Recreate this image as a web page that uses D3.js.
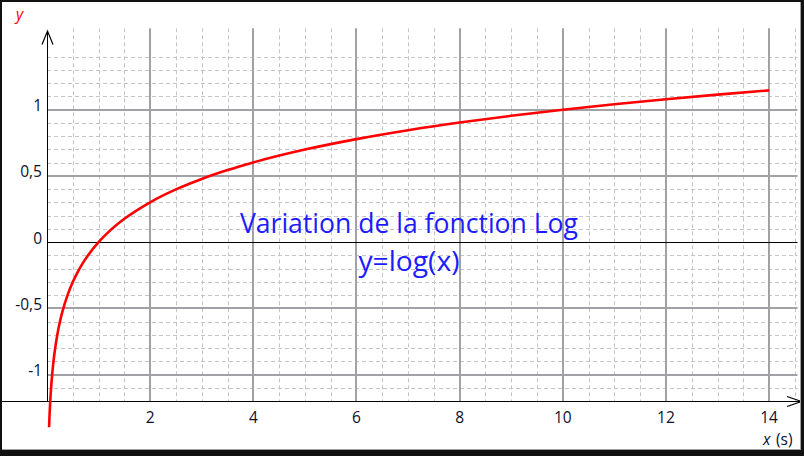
<!DOCTYPE html>
<html><head><meta charset="utf-8">
<script src="https://cdn.jsdelivr.net/npm/d3@7"></script>
<style>html,body{margin:0;padding:0;background:#fff}svg{display:block}</style>
</head><body>
<script>
// data: y = log(x)
const xs = [0.04,0.05,0.06,0.07,0.08,0.1,0.12,0.15,0.2,0.25,0.3,0.4,0.5,0.6,0.7,0.8,1,1.2,1.5,2,2.5,3,3.5,4,5,6,7,8,9,10,11,12,13,14];
const ys = [-1.398,-1.301,-1.222,-1.155,-1.097,-1,-0.921,-0.824,-0.699,-0.602,-0.523,-0.398,-0.301,-0.222,-0.155,-0.097,0,0.079,0.176,0.301,0.398,0.477,0.544,0.602,0.699,0.778,0.845,0.903,0.954,1,1.041,1.079,1.114,1.146];
const xTicks = [2,4,6,8,10,12,14];
const yTicks = [-1,-0.5,0,0.5,1];
const yTickLabels = ["-1","-0,5","0","0,5","1"];
const xMinor = [0.5,1,1.5,2.5,3,3.5,4.5,5,5.5,6.5,7,7.5,8.5,9,9.5,10.5,11,11.5,12.5,13,13.5,14.5];
const yMinor = [-1.1,-0.9,-0.8,-0.7,-0.6,-0.4,-0.3,-0.2,-0.1,0.1,0.2,0.3,0.4,0.6,0.7,0.8,0.9,1.1,1.2,1.3,1.4];
const title1 = "Variation de la fonction Log";
const title2 = "y=log(x)";

const W = 804, H = 456;
const svg = d3.select("body").append("svg").attr("width", W).attr("height", H);
svg.append("rect").attr("width", W).attr("height", H).attr("fill", "#fff");

const x = d3.scaleLinear().domain([0, 14.55]).range([47, 797.5]);
const y = d3.scaleLinear().domain([-1.2, 1.615]).range([401, 28.3]);

const font = "'Open Sans', 'Noto Sans', sans-serif";
const g = svg.append("g");

// minor grid
g.selectAll(".vmin").data(xMinor).join("line")
  .attr("x1", d => Math.round(x(d)) + 0.5).attr("x2", d => Math.round(x(d)) + 0.5)
  .attr("y1", y.range()[1]).attr("y2", y(-1.2))
  .attr("stroke", "#c4c4c4").attr("stroke-width", 1).attr("stroke-dasharray", "4,3");
g.selectAll(".hmin").data(yMinor).join("line")
  .attr("y1", d => Math.round(y(d)) + 0.5).attr("y2", d => Math.round(y(d)) + 0.5)
  .attr("x1", x(0)).attr("x2", x.range()[1])
  .attr("stroke", "#c4c4c4").attr("stroke-width", 1).attr("stroke-dasharray", "4,3");

// major grid
g.selectAll(".vmaj").data(xTicks).join("line")
  .attr("x1", d => Math.round(x(d))).attr("x2", d => Math.round(x(d)))
  .attr("y1", y.range()[1]).attr("y2", y(-1.2))
  .attr("stroke", "#a2a2a6").attr("stroke-width", 2);
g.selectAll(".hmaj").data(yTicks.filter(d => d !== 0)).join("line")
  .attr("y1", d => Math.round(y(d))).attr("y2", d => Math.round(y(d)))
  .attr("x1", x(0)).attr("x2", x.range()[1])
  .attr("stroke", "#a2a2a6").attr("stroke-width", 2);
// zero line
g.append("line").attr("x1", x(0)).attr("x2", x.range()[1])
  .attr("y1", Math.round(y(0)) + 0.5).attr("y2", Math.round(y(0)) + 0.5)
  .attr("stroke", "#000").attr("stroke-width", 1);

// axes
const ax = Math.round(x(0)) + 0.5, ay = Math.round(y(-1.2)) + 0.5;
g.append("line").attr("x1", 2).attr("x2", 801).attr("y1", ay).attr("y2", ay).attr("stroke", "#000");
g.append("line").attr("x1", ax).attr("x2", ax).attr("y1", ay).attr("y2", 31).attr("stroke", "#000");
// arrows
g.append("path").attr("d", `M${ax-5.5},44.5 L${ax},31 L${ax+5.5},44.5`).attr("fill", "none").attr("stroke", "#000").attr("stroke-width", 1.2);
g.append("path").attr("d", `M787,${ay-5} L801.5,${ay} L787,${ay+5}`).attr("fill", "none").attr("stroke", "#000").attr("stroke-width", 1.2);

// curve
const pts = xs.map((d, i) => [d, ys[i]]);
g.append("path").datum(pts)
  .attr("d", d3.line().x(d => x(d[0])).y(d => y(d[1])).curve(d3.curveMonotoneX))
  .attr("fill", "none").attr("stroke", "#ff0000").attr("stroke-width", 2.6);

// tick labels
const labColor = "#0b1030";
g.selectAll(".yl").data(yTicks).join("text")
  .attr("x", 42).attr("y", d => y(d) + 1.5)
  .attr("text-anchor", "end").attr("font-family", font).attr("font-size", 15.5)
  .attr("fill", labColor).text((d, i) => yTickLabels[i]);
g.selectAll(".xl").data(xTicks).join("text")
  .attr("x", d => x(d)).attr("y", 423)
  .attr("text-anchor", "middle").attr("font-family", font).attr("font-size", 15.5)
  .attr("fill", labColor).text(d => d);

// axis titles
g.append("text").attr("x", 16).attr("y", 20).attr("font-family", font).attr("font-size", 15.5)
  .attr("font-style", "italic").attr("fill", "#ff0000").text("y");
const xt = g.append("text").attr("x", 763).attr("y", 445).attr("font-family", font).attr("font-size", 15.5).attr("fill", labColor);
xt.append("tspan").attr("font-style", "italic").text("x");
xt.append("tspan").attr("x", 776).text("(s)");

// title texts
g.append("text").attr("x", 409).attr("y", 233).attr("text-anchor", "middle")
  .attr("font-family", font).attr("font-size", 26.5).attr("fill", "#1c1cff")
  .attr("textLength", 338).attr("lengthAdjust", "spacingAndGlyphs").text(title1);
g.append("text").attr("x", 409).attr("y", 271).attr("text-anchor", "middle")
  .attr("font-family", font).attr("font-size", 27).attr("fill", "#1c1cff")
  .attr("textLength", 101).attr("lengthAdjust", "spacingAndGlyphs").text(title2);

// frame
svg.append("rect").attr("x", 1).attr("y", 1).attr("width", 800).attr("height", 449)
  .attr("fill", "none").attr("stroke", "#111").attr("stroke-width", 2);
svg.append("line").attr("x1", 800.5).attr("x2", 800.5).attr("y1", 2).attr("y2", 450).attr("stroke", "#a0a0a0");
svg.append("line").attr("x1", 2).attr("x2", 801).attr("y1", 449.5).attr("y2", 449.5).attr("stroke", "#a0a0a0");
svg.append("rect").attr("x", 801).attr("y", 0).attr("width", 3).attr("height", H).attr("fill", "#111");
svg.append("rect").attr("x", 0).attr("y", 450).attr("width", W).attr("height", 6).attr("fill", "#111");
</script>
</body></html>
